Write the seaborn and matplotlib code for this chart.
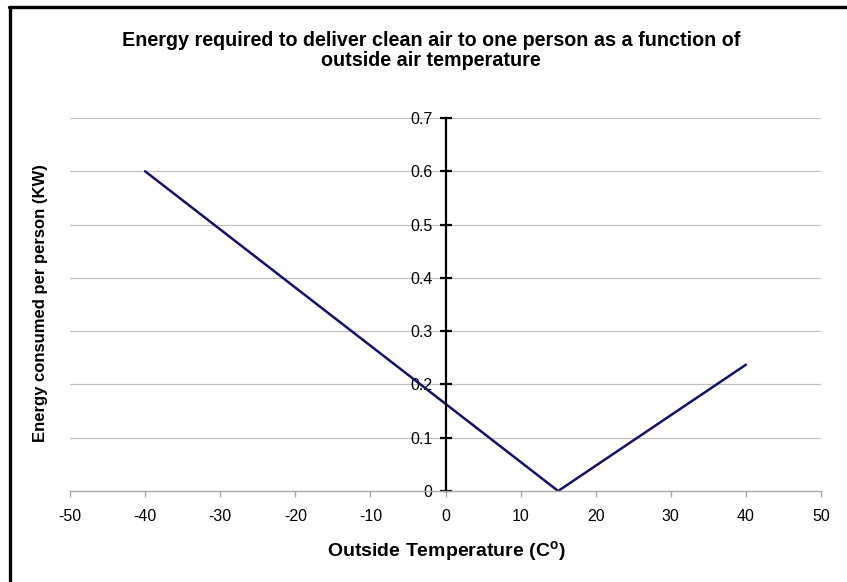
import matplotlib
matplotlib.use("Agg")
import matplotlib.pyplot as plt
import seaborn as sns
import pandas as pd
from matplotlib.lines import Line2D

temperature = [-40, 15, 40]
energy_kw = [0.6, 0.0, 0.237]
x_ticks = [-50, -40, -30, -20, -10, 0, 10, 20, 30, 40, 50]
y_ticks = [0, 0.1, 0.2, 0.3, 0.4, 0.5, 0.6, 0.7]
y_tick_labels = ["0", "0.1", "0.2", "0.3", "0.4", "0.5", "0.6", "0.7"]
title_lines = ["Energy required to deliver clean air to one person as a function of",
               "outside air temperature"]

df = pd.DataFrame({"temp": temperature, "energy": energy_kw})

sns.set_style("white")
plt.rcParams["font.family"] = ["Liberation Sans", "DejaVu Sans"]
plt.rcParams["text.color"] = "black"
plt.rcParams["mathtext.fontset"] = "custom"
plt.rcParams["mathtext.bf"] = "Liberation Sans:bold"
plt.rcParams["mathtext.rm"] = "Liberation Sans"

W, H = 847, 582
fig = plt.figure(figsize=(W / 100, H / 100), dpi=100)
ax = fig.add_axes([70 / W, 1 - 491 / H, 751 / W, 373 / H])

# gridlines
for yv in y_ticks[1:]:
    ax.axhline(yv, color="#c0c0c0", lw=0.9, zorder=0)

sns.lineplot(data=df, x="temp", y="energy", color="#12126b", lw=1.8, ax=ax)

ax.set_xlim(-50, 50)
ax.set_ylim(0, 0.7)
ax.set_xticks(x_ticks)
ax.set_xticklabels([str(t) for t in x_ticks])
ax.set_yticks(y_ticks)
ax.set_yticklabels(y_tick_labels)

ax.spines["right"].set_visible(False)
ax.spines["top"].set_visible(False)
ax.spines["left"].set_position(("data", 0))
ax.spines["left"].set_color("black")
ax.spines["left"].set_linewidth(1.6)
ax.spines["bottom"].set_color("#a8a8a8")
ax.spines["bottom"].set_linewidth(1.0)

ax.tick_params(axis="y", direction="inout", length=9, width=1.6, color="black",
               labelcolor="black", labelsize=11.5, pad=5)
ax.tick_params(axis="x", direction="out", length=4, width=1.0, color="#a8a8a8",
               labelcolor="black", labelsize=11.5, pad=9)
ax.yaxis.set_ticks_position("left")
ax.xaxis.set_ticks_position("bottom")

ax.set_xlabel("")
ax.set_ylabel("")
fig.text(446 / W, 1 - 557 / H, r"Outside Temperature (C$^{\mathbf{o}}$)",
         ha="center", va="baseline", fontsize=14, fontweight="bold")
fig.text(40 / W, 1 - 303 / H, "Energy consumed per person (KW)",
         ha="center", va="center", rotation=90, fontsize=12, fontweight="bold")
fig.text(431 / W, 1 - 46 / H, title_lines[0],
         ha="center", va="baseline", fontsize=14.2, fontweight="bold")
fig.text(431 / W, 1 - 66 / H, title_lines[1],
         ha="center", va="baseline", fontsize=14.2, fontweight="bold")

# frame around chart (top and left edges visible)
fig.add_artist(Line2D([9 / W, 1], [1 - 6.5 / H, 1 - 6.5 / H],
                      transform=fig.transFigure, color="black", lw=2.4))
fig.add_artist(Line2D([10 / W, 10 / W], [0, 1 - 6.5 / H],
                      transform=fig.transFigure, color="black", lw=2.4))

plt.savefig("out.png", dpi=100)
